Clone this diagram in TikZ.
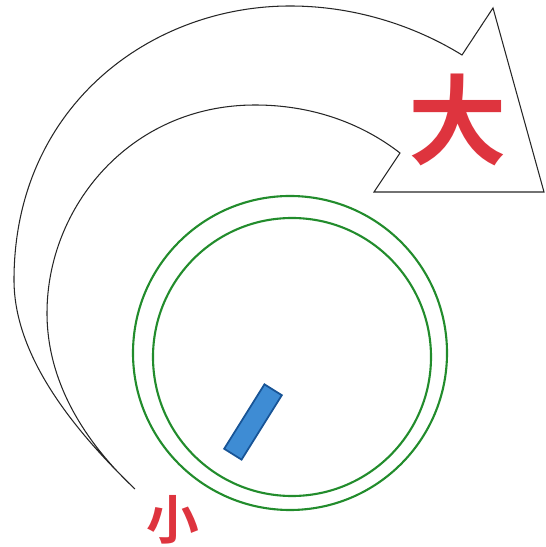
\documentclass[tikz,border=0pt]{standalone}
\usepackage{fontspec}
\newfontfamily\cjk{Noto Sans CJK SC}[BoldFont={Noto Sans CJK SC Bold}]
\tikzset{
  sweep/.style={line width=0.6pt, draw=black!85, line join=miter},
  ring/.style={line width=1.2pt, draw=knobgreen},
  pointer/.style={draw=pointerblue, fill=pointerfill, line width=1pt, minimum width=1.52cm, minimum height=0.41cm, inner sep=0pt},
  bigmark/.style={text=markred, font=\cjk\bfseries\fontsize{56}{56}\selectfont, inner sep=0pt},
  smallmark/.style={text=markred, font=\cjk\bfseries\fontsize{30}{30}\selectfont, inner sep=0pt},
}
\definecolor{knobgreen}{RGB}{34,140,44}
\definecolor{pointerblue}{RGB}{24,84,150}
\definecolor{pointerfill}{RGB}{62,140,212}
\definecolor{markred}{RGB}{222,52,62}

\begin{document}
\begin{tikzpicture}[x=0.02cm, y=0.02cm]
\useasboundingbox (0,0) rectangle (545,547);
\coordinate (tail) at (135,58);
\coordinate (outerleft) at (14,267);
\coordinate (outertop) at (290,541);
\coordinate (outernotch) at (462,492);
\coordinate (tip) at (493,539);
\coordinate (baseright) at (544,355);
\coordinate (baseleft) at (374,355);
\coordinate (innernotch) at (400,394);
\coordinate (innertop) at (255,442);
\coordinate (innerleft) at (47,234);
% sweeping arrow
\draw[sweep] (tail) .. controls (60,130) and (14,200) .. (outerleft)
  .. controls (14,440) and (150,541) .. (outertop)
  .. controls (360,541) and (420,518) .. (outernotch)
  -- (tip) -- (baseright) -- (baseleft) -- (innernotch)
  .. controls (360,425) and (310,442) .. (innertop)
  .. controls (130,442) and (47,340) .. (innerleft)
  .. controls (47,160) and (90,100) .. (tail);
% knob
\draw[ring] (290,194) circle (157);
\draw[ring] (292,190) circle (139);
\node[pointer, rotate=58] (indicator) at (253,125) {};
% labels
\node[bigmark] (big) at (458,427) {大};
\node[smallmark] (small) at (173,27) {小};
\end{tikzpicture}
\end{document}
